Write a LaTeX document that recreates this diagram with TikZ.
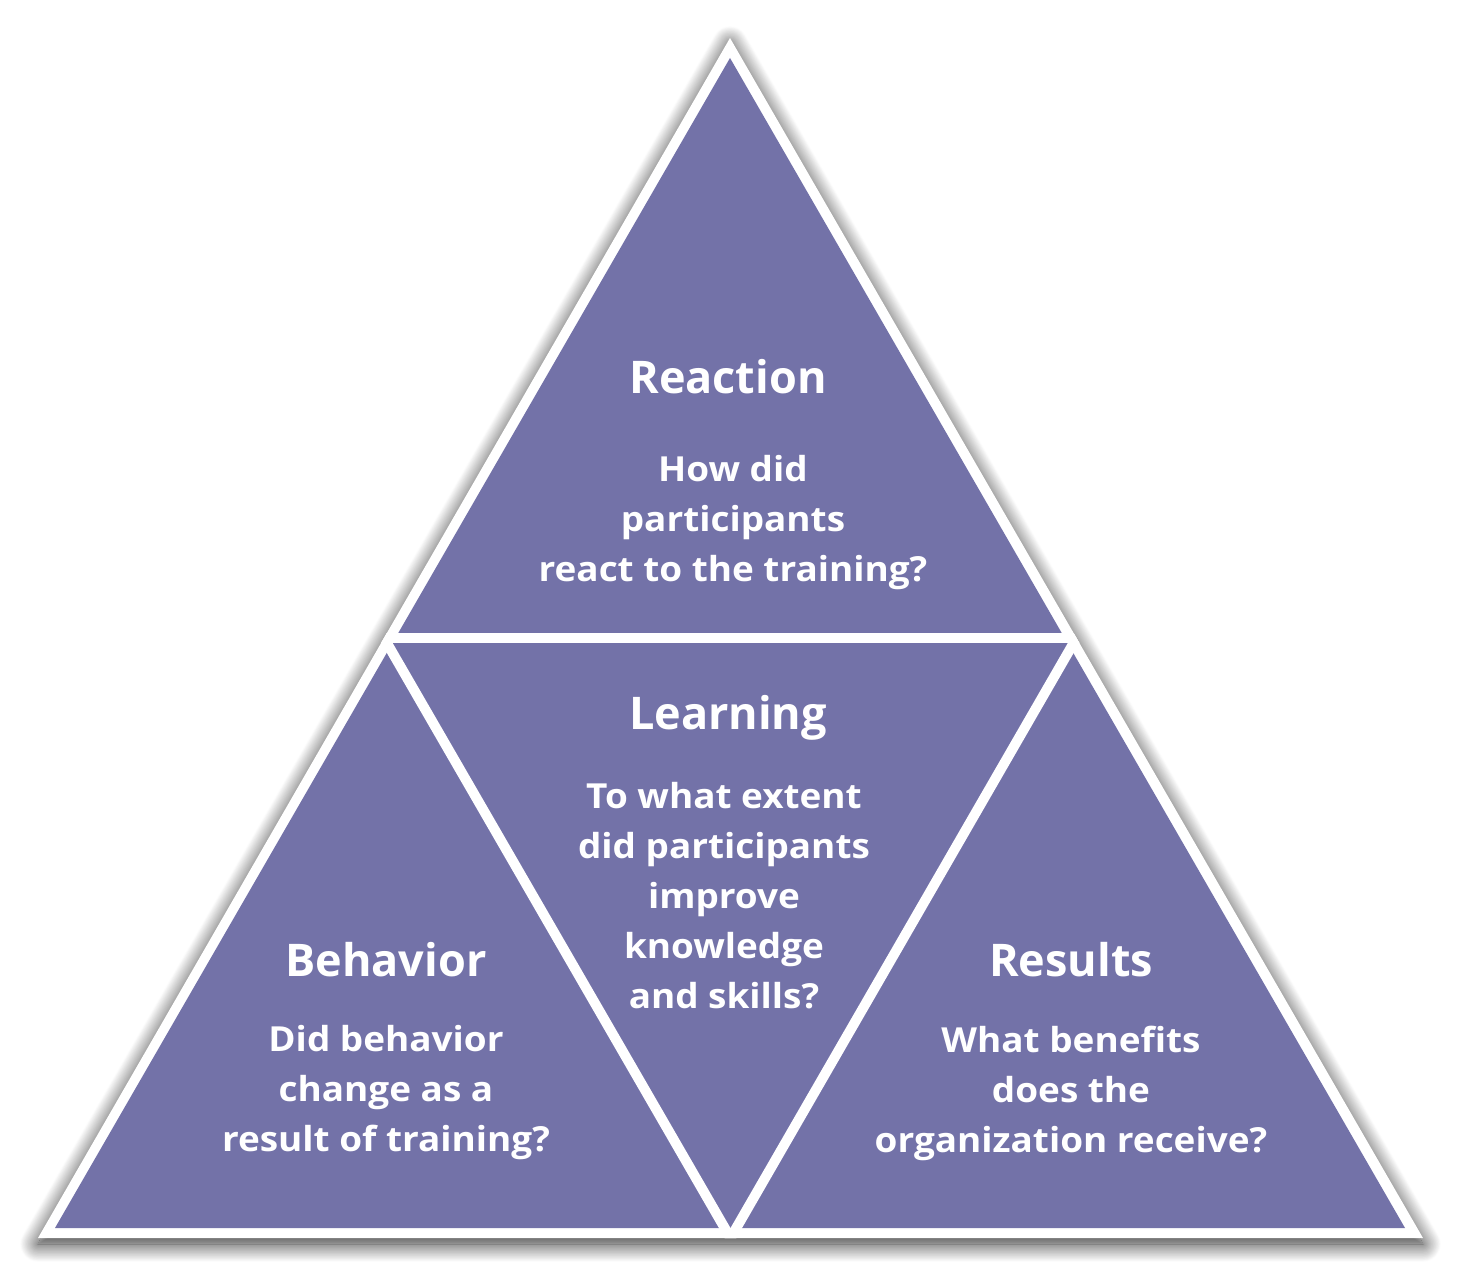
\documentclass[tikz,border=0pt]{standalone}
\usepackage{fontspec}
\setmainfont{Open Sans}
\usetikzlibrary{shadows.blur,calc}
\definecolor{pyr}{RGB}{115,114,168}
\tikzset{
  head/.style={text=white, font=\fontsize{45}{50}\selectfont\bfseries, inner sep=0pt, align=center},
  body/.style={text=white, font=\fontsize{34.5}{50}\selectfont\bfseries, inner sep=0pt, align=center, xscale=1.07, transform shape},
  gap/.style={draw=white, line width=10pt}
}
\begin{document}
\begin{tikzpicture}[x=1pt,y=-1pt]
\useasboundingbox (0,0) rectangle (1462,1276);
% outer triangle with shadow
\coordinate (A) at (730,38);
\coordinate (B) at (38,1238);
\coordinate (C) at (1423,1238);
\fill[white, blur shadow={shadow xshift=0pt, shadow yshift=-6pt, shadow blur radius=18pt, shadow blur steps=30, shadow opacity=85}] (A) -- (B) -- (C) -- cycle;
\fill[pyr] (730,58) -- (55,1228) -- (1405,1228) -- cycle;
\coordinate (AB) at ($(A)!0.5!(B)$);
\coordinate (AC) at ($(A)!0.5!(C)$);
\coordinate (BC) at ($(B)!0.5!(C)$);
\begin{scope}
  \clip (A) -- (B) -- (C) -- cycle;
  \draw[gap] ($(AB)!-0.1!(AC)$) -- ($(AC)!-0.1!(AB)$);
  \draw[gap] ($(AB)!-0.1!(BC)$) -- ($(BC)!-0.1!(AB)$);
  \draw[gap] ($(AC)!-0.1!(BC)$) -- ($(BC)!-0.1!(AC)$);
\end{scope}
% texts
\node[head] (reactionT) at (728,377) {Reaction};
\node[body] (reactionQ) at (733,523) {How did\\participants\\react to the training?};
\node[head] (learningT) at (728,718) {Learning};
\node[body] (learningQ) at (724,896) {To what extent\\did participants\\improve\\knowledge\\and skills?};
\node[head] (behaviorT) at (386,960) {Behavior};
\node[body] (behaviorQ) at (386,1093) {Did behavior\\change as a\\result of training?};
\node[head] (resultsT) at (1071,960) {Results};
\node[body] (resultsQ) at (1071,1093) {What benefits\\does the\\organization receive?};
\end{tikzpicture}
\end{document}
